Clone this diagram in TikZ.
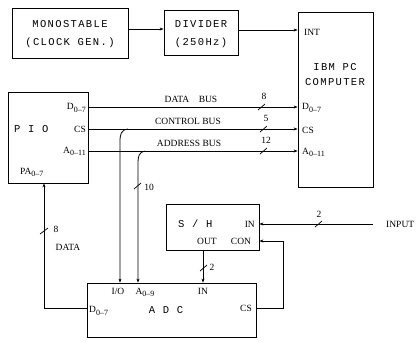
\documentclass[tikz,border=0pt]{standalone}
\usepackage{fontspec}
\setmainfont{Liberation Serif}
\newfontfamily\tw[LetterSpace=13]{Liberation Mono}
\newcommand{\sbs}[1]{\raisebox{-2.2pt}{\fontsize{8}{8}\selectfont #1}}
\usetikzlibrary{arrows.meta}
\begin{document}
\begin{tikzpicture}[x=1pt,y=-1pt,
  box/.style={draw,line width=0.8pt,inner sep=0pt},
  arr/.style={line width=0.8pt,-{Stealth[length=4pt,width=3pt]}},
  lbl/.style={font=\fontsize{9.5}{10}\selectfont,inner sep=0pt},
  twl/.style={font=\fontsize{10.5}{12}\tw,inner sep=0pt},
  slash/.style={line width=0.7pt}]
\useasboundingbox (0,0) rectangle (416,341);
% boxes
\node[box,minimum width=116,minimum height=50] (mono) at (70,33) {};
\node[box,minimum width=74,minimum height=45] (div) at (201,32.5) {};
\node[box,minimum width=75,minimum height=175] (ibm) at (335.5,99.5) {};
\node[box,minimum width=80,minimum height=91] (pio) at (48,137.5) {};
\node[box,minimum width=93,minimum height=46] (sh) at (212.5,227) {};
\node[box,minimum width=169,minimum height=54] (adc) at (171.5,310) {};
% box texts
\node[twl] (t1) at (70,24) {MONOSTABLE};
\node[twl] (t2) at (70,43) {(CLOCK GEN.)};
\node[twl] (t3) at (201,24) {DIVIDER};
\node[twl] (t4) at (201,43) {(250Hz)};
\node[lbl,anchor=west] (int) at (304,32) {INT};
\node[twl] (t5) at (335,67) {IBM PC};
\node[twl] (t6) at (335,82) {COMPUTER};
\node[lbl,anchor=west] (id) at (302,108) {D\sbs{0--7}};
\node[lbl,anchor=west] (ics) at (302,130) {CS};
\node[lbl,anchor=west] (ia) at (302,152) {A\sbs{0--11}};
\node[lbl,anchor=east] (pd) at (86,108) {D\sbs{0--7}};
\node[twl,anchor=west] (pp) at (14,129) {P I O};
\node[lbl,anchor=east] (pcs) at (86,129) {CS};
\node[lbl,anchor=east] (pa) at (86,151) {A\sbs{0--11}};
\node[lbl,anchor=west] (ppa) at (20,172) {PA\sbs{0--7}};
\node[twl,anchor=west] (st) at (178,224) {S / H};
\node[lbl,anchor=east] (sin) at (255,224) {IN};
\node[lbl] (sout) at (207,241) {OUT};
\node[lbl] (scon) at (241,241) {CON};
\node[lbl] (aio) at (118,291) {I/O};
\node[lbl] (aa) at (145,292) {A\sbs{0--9}};
\node[lbl] (ain) at (203,291) {IN};
\node[lbl,anchor=west] (ad) at (89,311) {D\sbs{0--7}};
\node[twl] (at) at (166,310) {A D C};
\node[lbl,anchor=east] (acs) at (252,308) {CS};
% bus labels
\node[lbl] (lb1) at (191,99) {DATA\hspace{1em}BUS};
\node[lbl] (lb2) at (188,121) {CONTROL BUS};
\node[lbl] (lb3) at (189,143) {ADDRESS BUS};
\node[lbl] (n8) at (264,96) {8};
\node[lbl] (n5) at (266,118) {5};
\node[lbl] (n12) at (266,140) {12};
\node[lbl] (n10) at (149,187) {10};
\node[lbl] (n2a) at (319,214) {2};
\node[lbl] (n2b) at (212,267) {2};
\node[lbl] (n8b) at (56,229) {8};
\node[lbl] (ldata) at (68,247) {DATA};
\node[lbl,anchor=west] (input) at (386,224) {INPUT};
\coordinate (inend) at (373,224);
% connectors
\draw[arr] (mono.east |- 0,29) -- (div.west |- 0,29);
\draw[arr] (div.east |- 0,30) -- (ibm.west |- 0,30);
\draw[arr] (pio.east |- 0,107) -- (ibm.west |- 0,107);
\draw[arr] (pio.east |- 0,129) -- (ibm.west |- 0,129);
\draw[arr] (pio.east |- 0,151) -- (ibm.west |- 0,151);
\draw[arr] (128,129) .. controls (121,130) and (120,134) .. (120,142) -- (120,0 |- adc.north);
\draw[arr] (145,151) .. controls (139,152) and (138,156) .. (138,164) -- (138,0 |- adc.north);
\draw[arr] (inend) -- (sh.east |- inend);
\draw[arr] (203,0 |- sh.south) -- (203,0 |- adc.north);
\draw[arr] (adc.east |- 0,308) -- (283,308) -- (283,241) -- (sh.east |- 0,241);
\draw[arr] (adc.west |- 0,308) -- (44,308) -- (44,0 |- pio.south);
% slashes
\draw[slash] (258,110) -- (265,104);
\draw[slash] (260,132) -- (267,126);
\draw[slash] (260,154) -- (267,148);
\draw[slash] (134,189) -- (141,183);
\draw[slash] (315,227) -- (322,221);
\draw[slash] (200,271) -- (207,265);
\draw[slash] (40,234) -- (48,228);
\end{tikzpicture}
\end{document}
